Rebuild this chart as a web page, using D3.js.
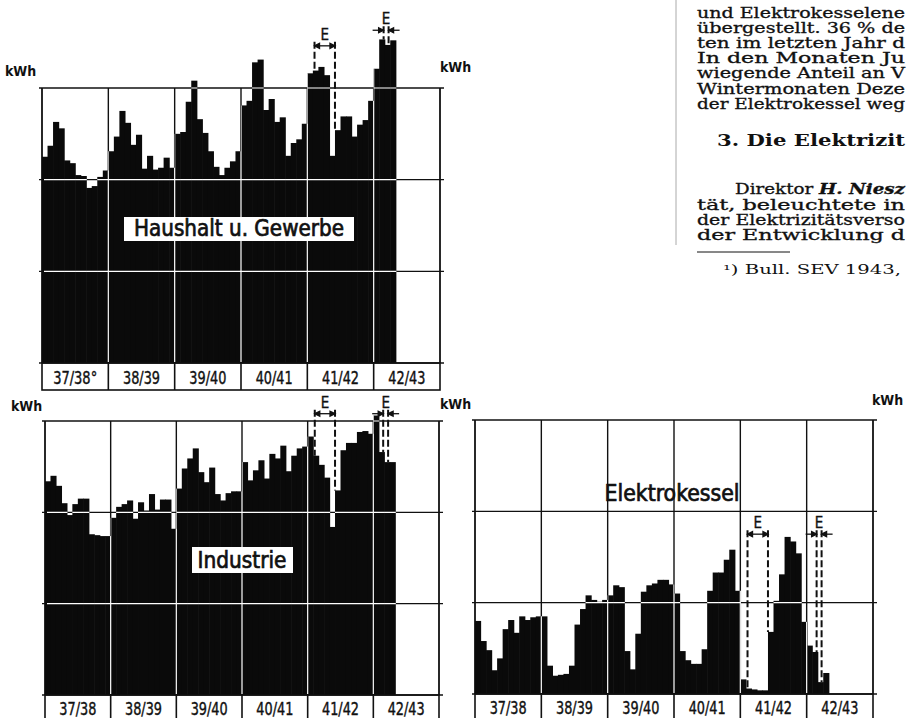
<!DOCTYPE html>
<html>
<head>
<meta charset="utf-8">
<script src="https://cdn.jsdelivr.net/npm/d3@7"></script>
<style>
  html, body { margin: 0; padding: 0; background: #fff; }
  svg { display: block; }
</style>
</head>
<body>
<div id="chart"></div>
<script>
// monthly consumption, Oct 1937 .. Jan 1943 (grid unit = 100)
const seasons = ['37/38', '38/39', '39/40', '40/41', '41/42', '42/43'];
const seasonsTop = ['37/38°', '38/39', '39/40', '40/41', '41/42', '42/43'];

const haushalt = [
  225, 237, 263, 256, 221, 218, 205, 204, 191, 193, 203, 210,
  231, 247, 275, 262, 238, 249, 212, 226, 211, 213, 224, 213,
  250, 252, 285, 308, 266, 251, 231, 214, 205, 213, 220, 231,
  281, 286, 328, 331, 276, 288, 263, 268, 226, 240, 244, 261,
  316, 319, 323, 314, 226, 254, 269, 269, 247, 260, 265, 286,
  321, 353, 347, 352
];

const industrie = [
  234, 240, 229, 210, 197, 209, 215, 215, 176, 175, 174, 174,
  194, 206, 209, 213, 193, 211, 202, 220, 203, 214, 214, 182,
  226, 248, 259, 270, 244, 233, 249, 220, 213, 221, 223, 223,
  255, 235, 246, 257, 237, 264, 259, 273, 245, 262, 270, 272,
  283, 262, 252, 238, 184, 224, 268, 276, 276, 288, 289, 286,
  306, 266, 255, 255
];

const elektrokessel = [
  80, 58, 48, 26, 39, 71, 81, 67, 85, 81, 84, 85,
  85, 31, 20, 21, 22, 31, 76, 93, 108, 103, 101, 103,
  108, 119, 117, 47, 27, 66, 112, 119, 121, 125, 125, 120,
  110, 47, 37, 33, 33, 49, 113, 133, 133, 147, 158, 113,
  16, 6, 5, 4, 4, 68, 102, 131, 172, 167, 154, 79,
  53, 46, 13, 23
];

// restriction periods "E" in months from Oct 1937
const restrictions = [[49.3, 53.0], [61.8, 62.7]];
const gridLevels = [100, 200, 300];

const textLines = [
  'und Elektrokesselene',
  'übergestellt. 36 % de',
  'ten im letzten Jahr d',
  'In den Monaten Ju',
  'wiegende Anteil an V',
  'Wintermonaten Deze',
  'der Elektrokessel weg'
];
const textLines2 = [
  'tät, beleuchtete in',
  'der Elektrizitätsverso',
  'der Entwicklung d'
];

const W = 907, H = 718;
const labelFont = '"DejaVu Sans Condensed", "Liberation Sans Narrow", "DejaVu Sans", sans-serif';
const serif = '"DejaVu Serif", "Liberation Serif", serif';

const svg = d3.select('#chart').append('svg').attr('width', W).attr('height', H);
svg.append('rect').attr('width', W).attr('height', H).attr('fill', '#fff');

function drawPanel(p, id) {
  const x = d3.scaleLinear().domain([0, 72]).range([p.x0, p.x1]);
  const y = d3.scaleLinear().domain([0, 300]).range([p.bottom, p.top]);
  const g = svg.append('g');
  const inner = d3.range(12, 72, 12);

  // black grid + frame
  g.selectAll('line.h').data([0].concat(gridLevels)).enter().append('line')
    .attr('x1', p.x0 - 3).attr('x2', p.x1 + 4)
    .attr('y1', d => y(d)).attr('y2', d => y(d))
    .attr('stroke', '#111').attr('stroke-width', 1.4);
  g.selectAll('line.v').data(d3.range(0, 73, 12)).enter().append('line')
    .attr('x1', d => x(d)).attr('x2', d => x(d))
    .attr('y1', y(300)).attr('y2', y(0))
    .attr('stroke', '#111').attr('stroke-width', d => (d === 0 || d === 72) ? 1.8 : 1.4);

  // bars
  const bars = p.values.map((v, i) => ({ i, v }));
  g.selectAll('rect.bar').data(bars).enter().append('rect')
    .attr('x', d => x(d.i)).attr('width', d => x(d.i + 1) - x(d.i) + 0.6)
    .attr('y', d => y(d.v)).attr('height', d => y(0) - y(d.v))
    .attr('fill', '#0a0a0a');

  // grid shows white where it crosses the bars
  const clip = svg.append('defs').append('clipPath').attr('id', 'clip' + id);
  clip.selectAll('rect').data(bars).enter().append('rect')
    .attr('x', d => x(d.i)).attr('width', d => x(d.i + 1) - x(d.i) + 0.6)
    .attr('y', d => y(d.v)).attr('height', d => y(0) - y(d.v) - 1);
  const wg = g.append('g').attr('clip-path', `url(#clip${id})`);
  wg.selectAll('line.h').data(gridLevels).enter().append('line')
    .attr('x1', p.x0 + 2).attr('x2', p.x1)
    .attr('y1', d => y(d)).attr('y2', d => y(d))
    .attr('stroke', '#fff').attr('stroke-width', 1.2);
  wg.selectAll('line.v').data(inner).enter().append('line')
    .attr('x1', d => x(d)).attr('x2', d => x(d))
    .attr('y1', y(300) - 60).attr('y2', y(0))
    .attr('stroke', '#fff').attr('stroke-width', 1.2);

  // season label row
  const lb = g.append('g');
  lb.append('rect').attr('x', p.x0).attr('y', p.bottom).attr('width', p.x1 - p.x0).attr('height', p.labelH)
    .attr('fill', 'none').attr('stroke', '#111').attr('stroke-width', 1.6);
  lb.selectAll('line').data(inner).enter().append('line')
    .attr('x1', d => x(d)).attr('x2', d => x(d))
    .attr('y1', p.bottom).attr('y2', p.bottom + p.labelH)
    .attr('stroke', '#111').attr('stroke-width', 1.6);
  lb.selectAll('text').data(p.labels).enter().append('text')
    .attr('x', (d, i) => x(i * 12 + 6)).attr('y', p.bottom + p.labelBase)
    .attr('text-anchor', 'middle')
    .attr('font-family', labelFont).attr('font-size', 18)
    .attr('stroke', '#111').attr('stroke-width', 0.4)
    .attr('textLength', d => d.length > 5 ? 44 : 37).attr('lengthAdjust', 'spacingAndGlyphs')
    .attr('fill', '#111').text(d => d);

  // restriction markers
  restrictions.forEach((r, k) => {
    const ay = y(p.arrowV[k]);
    const xa = x(r[0]), xb = x(r[1]);
    const topAt = m => y(Math.max(p.values[Math.floor(m)] || 0, p.values[Math.ceil(m) - 1] || 0));
    [[xa, topAt(r[0])], [xb, topAt(r[1])]].forEach(([xx, yb]) => {
      g.append('line').attr('x1', xx).attr('x2', xx).attr('y1', ay - 4).attr('y2', yb)
        .attr('stroke', '#111').attr('stroke-width', 2).attr('stroke-dasharray', '7,3');
    });
    const mk = g.append('g').attr('stroke', '#111').attr('fill', '#111').attr('stroke-width', 1.3);
    if (xb - xa > 10) {
      mk.append('line').attr('x1', xa).attr('x2', xb).attr('y1', ay).attr('y2', ay);
      mk.append('path').attr('d', `M${xa},${ay}l5,-2.5v5z M${xb},${ay}l-5,-2.5v5z`);
    } else {
      mk.append('line').attr('x1', xa - 11).attr('x2', xa).attr('y1', ay).attr('y2', ay);
      mk.append('line').attr('x1', xb).attr('x2', xb + 11).attr('y1', ay).attr('y2', ay);
      mk.append('path').attr('d', `M${xa},${ay}l-5,-2.5v5z M${xb},${ay}l5,-2.5v5z`);
    }
    g.append('text').attr('x', (xa + xb) / 2).attr('y', ay - 6)
      .attr('text-anchor', 'middle').attr('font-family', labelFont).attr('font-size', 15)
      .attr('stroke', '#111').attr('stroke-width', 0.3)
      .attr('fill', '#111').text('E');
  });

  // panel title
  if (p.box) {
    g.append('rect').attr('x', p.box[0]).attr('y', p.box[1]).attr('width', p.box[2]).attr('height', p.box[3])
      .attr('fill', '#fff');
  }
  g.append('text').attr('x', p.tx).attr('y', p.ty).attr('text-anchor', 'middle')
    .attr('font-family', labelFont).attr('font-size', 23)
    .attr('stroke', '#111').attr('stroke-width', 0.7)
    .attr('textLength', p.tw).attr('lengthAdjust', 'spacingAndGlyphs')
    .attr('fill', '#111').text(p.title);
}

const panels = [
  { values: haushalt, x0: 42, x1: 440, top: 88, bottom: 363, labels: seasonsTop, labelH: 27, labelBase: 21,
    arrowV: [346, 363], title: 'Haushalt u. Gewerbe', box: [124, 217, 230, 24], tx: 239, ty: 236, tw: 210 },
  { values: industrie, x0: 45, x1: 439, top: 421, bottom: 695, labels: seasons, labelH: 30, labelBase: 20,
    arrowV: [308, 308], title: 'Industrie', box: [192, 547, 101, 26], tx: 242, ty: 568, tw: 89 },
  { values: elektrokessel, x0: 475, x1: 873, top: 420, bottom: 694, labels: seasons, labelH: 30, labelBase: 20,
    arrowV: [175, 175], title: 'Elektrokessel', box: null, tx: 672, ty: 501, tw: 135 }
];
panels.forEach((p, i) => drawPanel(p, i));

// kWh axis captions
const units = [[5, 76], [440, 72], [11, 411], [440, 409], [872, 405]];
svg.selectAll('text.unit').data(units).enter().append('text')
  .attr('x', d => d[0]).attr('y', d => d[1])
  .attr('font-family', labelFont).attr('font-size', 14).attr('font-weight', 'bold')
  .attr('fill', '#111').text('kWh');

// surrounding article text, stretched to the page edge like the wide print face
function fit(sel, len) {
  return sel.attr('textLength', len).attr('lengthAdjust', 'spacingAndGlyphs');
}

svg.append('line').attr('x1', 676).attr('x2', 676).attr('y1', 0).attr('y2', 245)
  .attr('stroke', '#aaa').attr('stroke-width', 1);
fit(svg.selectAll('text.body').data(textLines).enter().append('text')
  .attr('x', 697).attr('y', (d, i) => 18 + i * 15.1)
  .attr('font-family', serif).attr('font-size', 14)
  .attr('stroke', '#111').attr('stroke-width', 0.3)
  .attr('fill', '#111').text(d => d), 208);
fit(svg.append('text').attr('x', 717).attr('y', 146)
  .attr('font-family', serif).attr('font-size', 16).attr('font-weight', 'bold')
  .attr('fill', '#111').text('3. Die Elektrizit'), 188);
const dl = fit(svg.append('text').attr('x', 735).attr('y', 194)
  .attr('font-family', serif).attr('font-size', 14)
  .attr('stroke', '#111').attr('stroke-width', 0.3).attr('fill', '#111'), 170);
dl.append('tspan').text('Direktor ');
dl.append('tspan').attr('font-style', 'italic').attr('font-weight', 'bold').text('H. Niesz');
fit(svg.selectAll('text.body2').data(textLines2).enter().append('text')
  .attr('x', 697).attr('y', (d, i) => 209.5 + i * 15.1)
  .attr('font-family', serif).attr('font-size', 14)
  .attr('stroke', '#111').attr('stroke-width', 0.3)
  .attr('fill', '#111').text(d => d), 208);
svg.append('line').attr('x1', 697).attr('x2', 790).attr('y1', 252).attr('y2', 252)
  .attr('stroke', '#111').attr('stroke-width', 1);
fit(svg.append('text').attr('x', 723).attr('y', 274)
  .attr('font-family', serif).attr('font-size', 12).attr('fill', '#111')
  .text('¹) Bull. SEV 1943,'), 178);
</script>
</body>
</html>
